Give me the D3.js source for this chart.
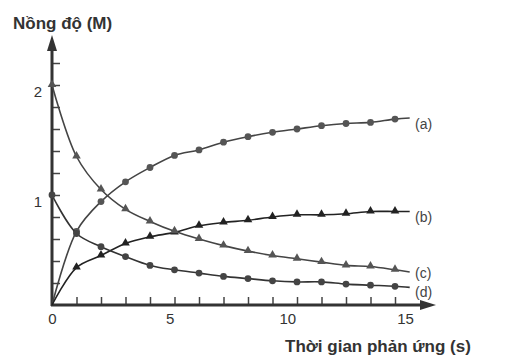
<!DOCTYPE html>
<html>
<head>
<meta charset="utf-8">
<script src="https://cdn.jsdelivr.net/npm/d3@7"></script>
<style>
  body { margin: 0; background: #fff; }
  text { font-family: "Liberation Sans", Arial, sans-serif; }
</style>
</head>
<body>
<svg id="chart" width="517" height="362"></svg>
<script>
// time points (s) where the markers sit
var times = [0, 1, 2, 3, 4, 5, 6, 7, 8, 9, 10, 11, 12, 13, 14];
// the curves run a little past the last marker
var tEnd = 14.6;

// concentrations (M)
var seriesA = [0, 0.67, 0.94, 1.12, 1.25, 1.36, 1.41, 1.48, 1.53, 1.57, 1.60, 1.63, 1.65, 1.66, 1.69];
var seriesB = [0, 0.34, 0.45, 0.56, 0.62, 0.66, 0.72, 0.75, 0.77, 0.80, 0.82, 0.82, 0.83, 0.85, 0.85];
var seriesC = [2.0, 1.35, 1.05, 0.87, 0.76, 0.67, 0.60, 0.54, 0.49, 0.45, 0.42, 0.39, 0.36, 0.35, 0.32];
var seriesD = [1.0, 0.65, 0.53, 0.44, 0.36, 0.32, 0.29, 0.26, 0.24, 0.22, 0.21, 0.21, 0.19, 0.18, 0.17];
var endValues = [1.70, 0.85, 0.30, 0.16];

var seriesNames = ["(a)", "(b)", "(c)", "(d)"];
var markerShapes = ["circle", "triangle", "triangle", "circle"];

// tick labels
var xTickLabels = [0, 5, 10, 15];
var yTickLabels = [1, 2];
var yMinorTicks = [0.2, 0.4, 0.6, 0.8, 1.0, 1.2, 1.4, 1.6, 1.8, 2.0, 2.2];
var xMinorTicks = [1, 2, 3, 4, 5, 6, 7, 8, 9, 10, 11, 12, 13, 14];

var svg = d3.select("#chart");

var x = d3.scaleLinear().domain([0, 14]).range([52, 395]);
var y = d3.scaleLinear().domain([0, 2]).range([305, 85]);
// in the original the number labels drift left of their ticks
var xLabelPos = d3.scaleLinear().domain([0, 15]).range([52, 405]);

var axisColor = "#333";

// y ticks (pointing right)
svg.append("g")
    .attr("transform", "translate(" + x(0) + ",0)")
    .call(d3.axisRight(y).tickValues(yMinorTicks).tickSize(8).tickFormat(""))
    .call(function(g) { g.select(".domain").remove(); })
    .selectAll("line").attr("stroke", "#444").attr("stroke-width", 1.5);

// y labels
svg.append("g")
    .attr("transform", "translate(" + x(0) + ",7)")
    .call(d3.axisLeft(y).tickValues(yTickLabels).tickSize(0).tickPadding(10).tickFormat(d3.format("d")))
    .call(function(g) { g.select(".domain").remove(); })
    .selectAll("text").attr("font-size", 15).attr("fill", "#333")
    .style("font-family", "Liberation Sans, Arial, sans-serif");

// x ticks (pointing up)
svg.append("g")
    .attr("transform", "translate(0," + y(0) + ")")
    .call(d3.axisTop(x).tickValues(xMinorTicks).tickSize(8).tickFormat(""))
    .call(function(g) { g.select(".domain").remove(); })
    .selectAll("line").attr("stroke", "#444").attr("stroke-width", 1.5);

// x labels
svg.append("g")
    .attr("transform", "translate(0," + (y(0) + 4) + ")")
    .call(d3.axisBottom(xLabelPos).tickValues(xTickLabels).tickSize(0).tickPadding(4).tickFormat(d3.format("d")))
    .call(function(g) { g.select(".domain").remove(); })
    .selectAll("text").attr("font-size", 15).attr("fill", "#333")
    .style("font-family", "Liberation Sans, Arial, sans-serif");

// axis lines with arrow heads
svg.append("line")
    .attr("x1", x(0)).attr("y1", y(0) + 1)
    .attr("x2", x(0)).attr("y2", 48)
    .attr("stroke", axisColor).attr("stroke-width", 3);
svg.append("path")
    .attr("d", "M" + x(0) + ",35 L" + (x(0) - 5) + ",51 L" + (x(0) + 5) + ",51 Z")
    .attr("fill", axisColor);

svg.append("line")
    .attr("x1", x(0) - 1).attr("y1", y(0))
    .attr("x2", 422).attr("y2", y(0))
    .attr("stroke", axisColor).attr("stroke-width", 3);
svg.append("path")
    .attr("d", "M436," + y(0) + " L420," + (y(0) - 5) + " L420," + (y(0) + 5) + " Z")
    .attr("fill", axisColor);

// curves
var allSeries = [seriesA, seriesB, seriesC, seriesD];
var lineColors = ["#444", "#222", "#444", "#333"];
var markerColors = ["#555", "#222", "#555", "#444"];

var line = d3.line()
    .x(function(d) { return x(d[0]); })
    .y(function(d) { return y(d[1]); })
    .curve(d3.curveCatmullRom.alpha(0.5));

allSeries.forEach(function(vals, i) {
  var pts = times.map(function(t, j) { return [t, vals[j]]; });
  var full = pts.concat([[tEnd, endValues[i]]]);

  svg.append("path")
      .datum(full)
      .attr("fill", "none")
      .attr("stroke", lineColors[i])
      .attr("stroke-width", 1.6)
      .attr("d", line);

  var marks = pts.filter(function(p) { return p[0] > 0 || p[1] > 0; });
  if (markerShapes[i] === "circle") {
    svg.append("g").selectAll("circle")
        .data(marks)
        .join("circle")
        .attr("cx", function(d) { return x(d[0]); })
        .attr("cy", function(d) { return y(d[1]); })
        .attr("r", 3.4)
        .attr("fill", markerColors[i]);
  } else {
    var tri = d3.symbol().type(d3.symbolTriangle).size(32);
    svg.append("g").selectAll("path")
        .data(marks)
        .join("path")
        .attr("transform", function(d) { return "translate(" + x(d[0]) + "," + (y(d[1]) - 0.5) + ")"; })
        .attr("d", tri)
        .attr("fill", markerColors[i]);
  }

  // series label at the end of the curve
  svg.append("text")
      .attr("x", 415)
      .attr("y", y(endValues[i]) + [11, 10, 6, 10][i])
      .attr("font-size", 14)
      .attr("fill", "#444")
      .text(seriesNames[i]);
});

// axis titles
svg.append("text")
    .attr("x", 13).attr("y", 29)
    .attr("font-size", 17).attr("font-weight", "bold")
    .attr("fill", "#333")
    .text("Nồng độ (M)");

svg.append("text")
    .attr("x", 285).attr("y", 352)
    .attr("font-size", 17).attr("font-weight", "bold")
    .attr("fill", "#333")
    .text("Thời gian phản ứng (s)");
</script>
</body>
</html>
